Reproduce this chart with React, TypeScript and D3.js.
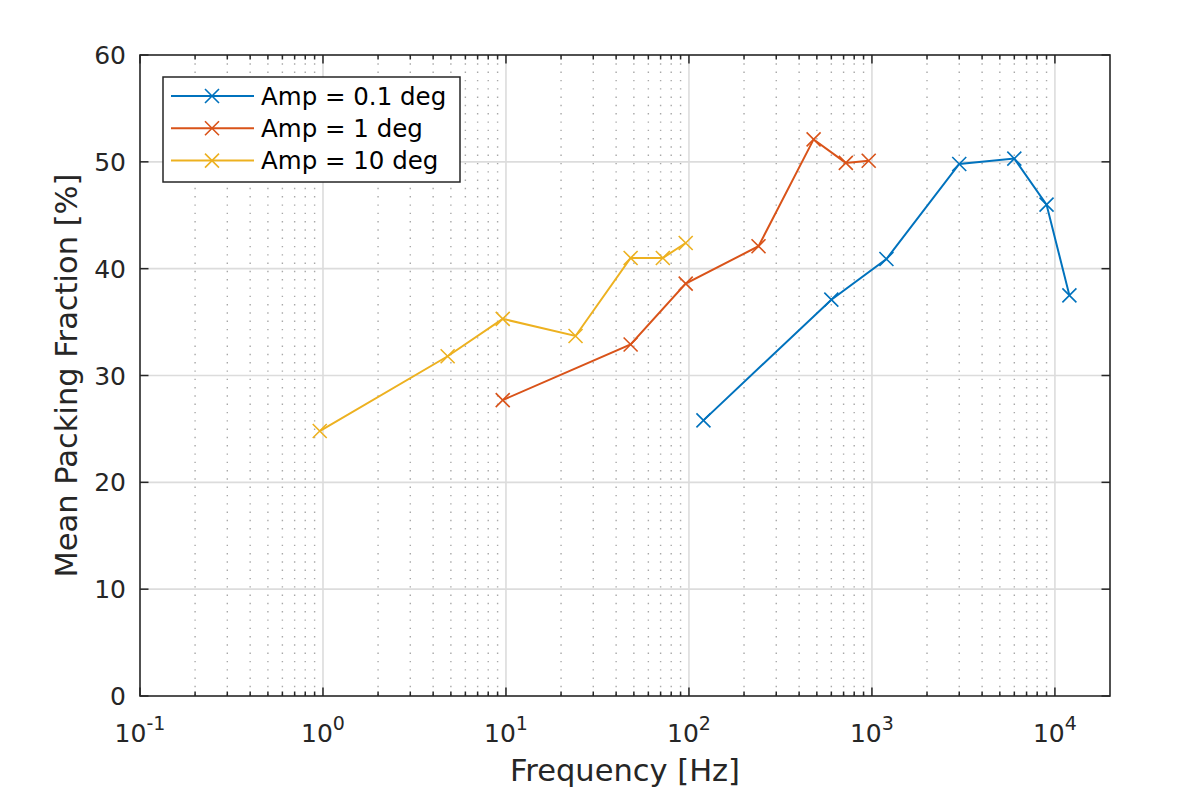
import React from 'react';
import * as d3 from 'd3';

// frequencies [Hz] and mean packing fraction [%] per amplitude
const FREQ_01 = [120, 600, 1200, 3000, 6000, 9000, 12000];
const PACK_01 = [25.8, 37.1, 40.9, 49.8, 50.3, 46.0, 37.5];

const FREQ_1 = [9.6, 48, 96, 240, 480, 720, 960];
const PACK_1 = [27.7, 32.9, 38.6, 42.1, 52.1, 49.9, 50.1];

const FREQ_10 = [0.96, 4.8, 9.6, 24, 48, 72, 96];
const PACK_10 = [24.8, 31.8, 35.3, 33.7, 41.0, 41.0, 42.4];

const SERIES_LABELS = ['Amp = 0.1 deg', 'Amp = 1 deg', 'Amp = 10 deg'];
const SERIES_COLORS = ['#0072BD', '#D95319', '#EDB120'];

const Y_TICKS = [0, 10, 20, 30, 40, 50, 60];
const X_DECADES = [-1, 0, 1, 2, 3, 4];

const W = 1196, H = 788;
const L = 140, R = 1110, T = 55, B = 696;
const INK = '#262626';
const FONT = 'DejaVu Sans, sans-serif';

const x = d3.scaleLog().domain([0.1, 2e4]).range([L, R]);
const y = d3.scaleLinear().domain([0, 60]).range([B, T]);

const series = [
  { label: SERIES_LABELS[0], color: SERIES_COLORS[0], f: FREQ_01, v: PACK_01 },
  { label: SERIES_LABELS[1], color: SERIES_COLORS[1], f: FREQ_1, v: PACK_1 },
  { label: SERIES_LABELS[2], color: SERIES_COLORS[2], f: FREQ_10, v: PACK_10 },
];

// minor log ticks 2..9 per decade inside the domain
const minorTicks: number[] = [];
for (const d of X_DECADES) {
  for (let k = 2; k <= 9; k++) {
    const t = k * Math.pow(10, d);
    if (t < 2e4) minorTicks.push(t);
  }
}

const line = d3.line<[number, number]>().x(d => x(d[0])).y(d => y(d[1]));

function Cross({ cx, cy, color }: { cx: number; cy: number; color: string }) {
  const s = 7;
  return (
    <path d={`M${cx - s},${cy - s}L${cx + s},${cy + s}M${cx - s},${cy + s}L${cx + s},${cy - s}`}
      stroke={color} strokeWidth={1.6} fill="none" />
  );
}

export default function App() {
  return (
    <svg width={W} height={H} viewBox={`0 0 ${W} ${H}`}
      style={{ position: 'absolute', left: 0, top: 0, background: '#fff' }}
      fontFamily={FONT}>
      <rect x={0} y={0} width={W} height={H} fill="#fff" />

      {/* minor x grid, dotted */}
      {minorTicks.map(t => (
        <line key={'mg' + t} x1={x(t)} x2={x(t)} y1={T} y2={B}
          stroke="#a8a8a8" strokeWidth={1.4} strokeDasharray="1.4 6.9" />
      ))}
      {/* major grid */}
      {X_DECADES.slice(1).map(d => (
        <line key={'xg' + d} x1={x(Math.pow(10, d))} x2={x(Math.pow(10, d))} y1={T} y2={B}
          stroke="#dcdcdc" strokeWidth={1.6} />
      ))}
      {Y_TICKS.slice(1, -1).map(v => (
        <line key={'yg' + v} x1={L} x2={R} y1={y(v)} y2={y(v)} stroke="#dcdcdc" strokeWidth={1.6} />
      ))}

      {/* series */}
      {series.map(s => {
        const pts = s.f.map((f, i) => [f, s.v[i]] as [number, number]);
        return (
          <g key={s.label}>
            <path d={line(pts) ?? ''} fill="none" stroke={s.color} strokeWidth={2} />
            {pts.map((p, i) => <Cross key={i} cx={x(p[0])} cy={y(p[1])} color={s.color} />)}
          </g>
        );
      })}

      {/* ticks (box on: all four sides, pointing inward) */}
      {minorTicks.map(t => (
        <g key={'mt' + t} stroke={INK} strokeWidth={1.5}>
          <line x1={x(t)} x2={x(t)} y1={B} y2={B - 4.5} />
          <line x1={x(t)} x2={x(t)} y1={T} y2={T + 4.5} />
        </g>
      ))}
      {X_DECADES.map(d => (
        <g key={'xt' + d} stroke={INK} strokeWidth={1.5}>
          <line x1={x(Math.pow(10, d))} x2={x(Math.pow(10, d))} y1={B} y2={B - 8.5} />
          <line x1={x(Math.pow(10, d))} x2={x(Math.pow(10, d))} y1={T} y2={T + 8.5} />
        </g>
      ))}
      {Y_TICKS.map(v => (
        <g key={'yt' + v} stroke={INK} strokeWidth={1.5}>
          <line x1={L} x2={L + 8.5} y1={y(v)} y2={y(v)} />
          <line x1={R} x2={R - 8.5} y1={y(v)} y2={y(v)} />
        </g>
      ))}

      {/* axes box */}
      <rect x={L} y={T} width={R - L} height={B - T} fill="none" stroke={INK} strokeWidth={1.6} />

      {/* tick labels */}
      {Y_TICKS.map(v => (
        <text key={'yl' + v} x={126} y={y(v)} dy="0.36em" textAnchor="end" fontSize={25} fill={INK}>{v}</text>
      ))}
      {X_DECADES.map(d => (
        <text key={'xl' + d} x={x(Math.pow(10, d))} y={742} textAnchor="middle" fontSize={25} fill={INK}>
          <tspan>10</tspan>
          <tspan dy={-12} fontSize={19}>{d}</tspan>
        </text>
      ))}

      {/* axis labels */}
      <text x={(L + R) / 2} y={781} textAnchor="middle" fontSize={30.5} fill={INK}>Frequency [Hz]</text>
      <text transform={`translate(77,${(T + B) / 2}) rotate(-90)`} textAnchor="middle" fontSize={30.5} fill={INK}>
        Mean Packing Fraction [%]
      </text>

      {/* legend */}
      <rect x={163} y={77} width={297} height={105} fill="#fff" stroke={INK} strokeWidth={1.5} />
      {series.map((s, i) => {
        const ry = 96 + i * 32.3;
        return (
          <g key={'lg' + i}>
            <line x1={171} x2={254} y1={ry} y2={ry} stroke={s.color} strokeWidth={2} />
            <Cross cx={212} cy={ry} color={s.color} />
            <text x={261} y={ry} dy="0.36em" fontSize={24.5} fill="#000">{s.label}</text>
          </g>
        );
      })}
    </svg>
  );
}
